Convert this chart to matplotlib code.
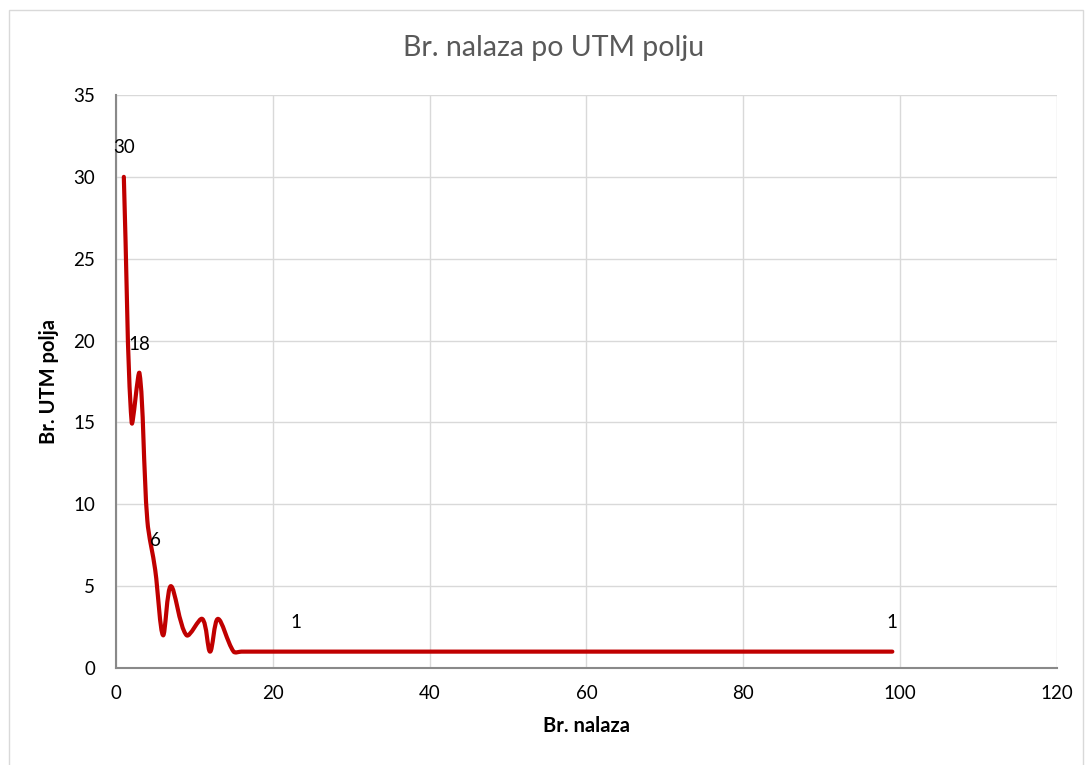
import numpy as np
import matplotlib
matplotlib.use("Agg")
import matplotlib.pyplot as plt
from matplotlib.path import Path
from matplotlib.patches import PathPatch, Rectangle

plt.rcParams['font.family'] = ['Lato', 'DejaVu Sans']

# broj nalaza (x) i broj UTM polja (y)
br_nalaza = [1, 2, 3, 4, 5, 6, 7, 9, 11, 12, 13, 15, 16, 23, 99]
br_utm = [30, 15, 18, 9, 6, 2, 5, 2, 3, 1, 3, 1, 1, 1, 1]
labeled = [1, 3, 5, 23, 99]

title = "Br. nalaza po UTM polju"
xlabel = "Br. nalaza"
ylabel = "Br. UTM polja"
line_color = "#C00000"
grid_color = "#D9D9D9"


def smooth_path(ax, xs, ys):
    # bezier through the points (done in screen space), like excel's smoothed line
    tr = ax.transData
    pts = tr.transform(np.column_stack([xs, ys]).astype(float))
    n = len(pts)
    verts = [pts[0]]
    codes = [Path.MOVETO]
    for i in range(n - 1):
        p0 = pts[i - 1] if i > 0 else pts[i]
        p1 = pts[i]
        p2 = pts[i + 1]
        p3 = pts[i + 2] if i + 2 < n else pts[i + 1]
        d01 = np.hypot(*(p1 - p0))
        d12 = np.hypot(*(p2 - p1))
        d23 = np.hypot(*(p3 - p2))
        c1 = p1 + (p2 - p0) * d12 / (d01 + d12) / 3.0
        c2 = p2 - (p3 - p1) * d12 / (d12 + d23) / 3.0
        verts += [c1, c2, p2]
        codes += [Path.CURVE4] * 3
    verts = tr.inverted().transform(np.array(verts))
    return Path(verts, codes)


fig = plt.figure(figsize=(10.86, 7.65), dpi=100)
ax = fig.add_axes([0.1068, 0.1268, 0.8665, 0.749])
ax.set_xlim(0, 120)
ax.set_ylim(0, 35)

ax.add_patch(PathPatch(smooth_path(ax, br_nalaza, br_utm), fill=False,
                       edgecolor=line_color, lw=3, capstyle='round',
                       joinstyle='round', zorder=3))

for x, y in zip(br_nalaza, br_utm):
    if x in labeled:
        ax.annotate(str(y), (x, y), xytext=(0, 21), textcoords='offset points',
                    ha='center', va='center', fontsize=13.5, color='black')

ax.set_xticks(range(0, 121, 20))
ax.set_yticks(range(0, 36, 5))
ax.grid(True, color=grid_color, lw=1)
ax.set_axisbelow(True)
for s in ['top', 'right']:
    ax.spines[s].set_visible(False)
for s in ['left', 'bottom']:
    ax.spines[s].set_color('#898989')
    ax.spines[s].set_linewidth(1.5)
ax.tick_params(length=0, labelsize=13.5, colors='black')
ax.tick_params(axis='y', pad=15)
ax.tick_params(axis='x', pad=12)

ax.set_xlabel(xlabel, fontsize=14.5, fontweight='bold', labelpad=10)
ax.set_ylabel(ylabel, fontsize=14.5, fontweight='bold', labelpad=10)
fig.text(554 / 1086, 0.937, title, ha='center', va='center', fontsize=20.5, color='#595959')

fig.patches.append(Rectangle((9 / 1086, -0.01), 1074 / 1086, 1 - 10 / 765 + 0.01,
                             transform=fig.transFigure, fill=False,
                             edgecolor='#D9D9D9', lw=1))

fig.savefig("out.png", dpi=100)
